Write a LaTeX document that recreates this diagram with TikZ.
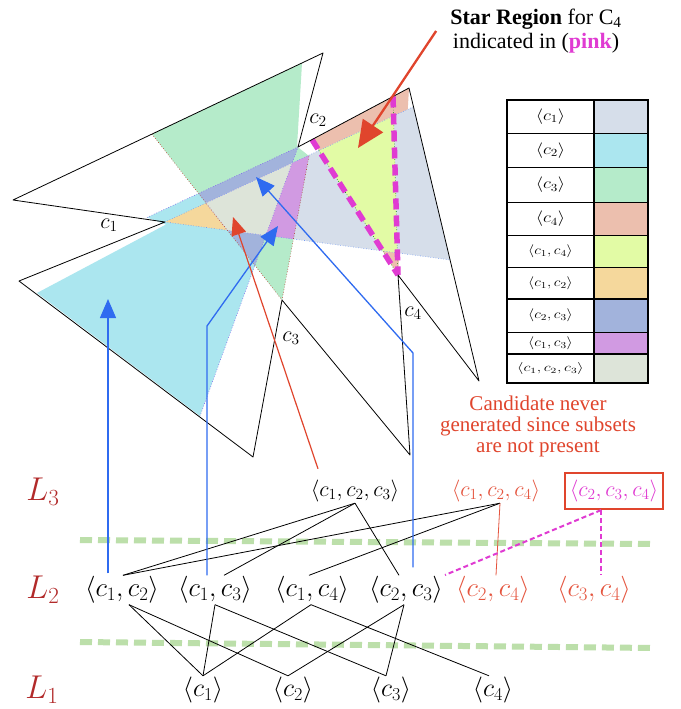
\RequirePackage{fix-cm}
\documentclass[tikz,border=0pt]{standalone}
\usepackage{fontspec}
\newfontfamily\gara{Liberation Serif}
\usetikzlibrary{arrows.meta,calc}
\definecolor{slateC}{HTML}{D6DEEA}
\definecolor{cyanC}{HTML}{ABE6EF}
\definecolor{greenC}{HTML}{B5EBCA}
\definecolor{salmonC}{HTML}{ECBFAE}
\definecolor{yellowC}{HTML}{E2FBA5}
\definecolor{orangeC}{HTML}{F5D89C}
\definecolor{periC}{HTML}{A2B3DC}
\definecolor{purpleC}{HTML}{D19AE2}
\definecolor{greyC}{HTML}{DDE4D9}
\definecolor{blueA}{HTML}{2F6BF0}
\definecolor{redA}{HTML}{E0452D}
\definecolor{lattRed}{HTML}{E5553F}
\definecolor{Lred}{HTML}{B22A2A}
\definecolor{magC}{HTML}{E03BD2}
\definecolor{sepG}{HTML}{BCDFAA}
\tikzset{
  blk/.style={draw=black, line width=0.8pt, line join=round},
  dotB/.style={draw=blueA!70, line width=0.6pt, dotted},
  dotP/.style={draw=purpleC!60!blue, line width=0.6pt, dotted},
  dotR/.style={draw=redA!80!black, line width=0.6pt, dotted},
  dotG/.style={draw=green!50!black, line width=0.6pt, dotted},
  pinkDash/.style={draw=magC, line width=5.5pt, dash pattern=on 11pt off 6pt},
  blueArr/.style={draw=blueA, line width=1.3pt, -{Triangle[width=16pt,length=19pt]}},
  redArr/.style={draw=redA, line width=1.2pt, -{Triangle[width=15pt,length=18pt]}},
  starArr/.style={draw=redA, line width=2.3pt, -{Triangle[width=24pt,length=27pt]}},
  clab/.style={font=\fontsize{22}{26}\selectfont, inner sep=0pt},
  lat/.style={font=\fontsize{27}{31}\selectfont, inner sep=1pt},
  latone/.style={font=\fontsize{26}{30}\selectfont, inner sep=1pt},
  latthree/.style={font=\fontsize{22}{26}\selectfont, inner sep=1pt},
  lev/.style={font=\fontsize{33}{37}\selectfont, text=Lred, inner sep=0pt},
  latedge/.style={draw=black, line width=0.8pt},
  latredge/.style={draw=lattRed, line width=0.8pt},
  magdash/.style={draw=magC, line width=2pt, dash pattern=on 5pt off 3pt},
  sepline/.style={draw=sepG, line width=6pt, dash pattern=on 12pt off 6pt},
  tabtxt/.style={inner sep=0pt},
  gridline/.style={draw=black, line width=1.1pt}
}
\begin{document}
\begin{tikzpicture}[x=1pt,y=-1pt]
\useasboundingbox (0,0) rectangle (680,709);
\fill[white] (0,0) rectangle (680,709);
% ---------- geometry points ----------
\coordinate (P1) at (13,200);
\coordinate (P2) at (323,53);
\coordinate (Q1) at (165,222);
\coordinate (P3) at (19,281);
\coordinate (P5) at (253,457);
\coordinate (Q3) at (282,300);
\coordinate (P6) at (410,455);
\coordinate (Q4) at (398,275);
\coordinate (P8) at (479,381);
\coordinate (P9) at (409,88);
\coordinate (Q2) at (298,147);
\coordinate (T1) at (413.5,106.7);
\coordinate (B1) at (450.1,259.9);
\coordinate (K2) at (147,217.5);
\coordinate (X2) at (166,224.5);
\coordinate (W2) at (37,293);
\coordinate (S2) at (200,416);
\coordinate (G1) at (152,134.1);
\coordinate (G2) at (302,63.2);
\coordinate (G3) at (297,146.5);
\coordinate (G4) at (309,156);
\coordinate (D4) at (312,139.6);
\coordinate (V4) at (393,96.5);
\def\conA{(Q1) -- (T1) -- (B1) -- cycle}
\def\conB{(Q2) -- (K2) -- (X2) -- (W2) -- (S2) -- cycle}
\def\conC{(Q3) -- (G1) -- (G2) -- (G3) -- (G4) -- cycle}
\def\conDw{(Q4) -- (D4) -- (P9) -- cycle}
\def\conDn{(Q4) -- (D4) -- (V4) -- cycle}
% ---------- fills ----------
\fill[salmonC] \conDw;
\fill[slateC] \conA;
\fill[cyanC] \conB;
\fill[greenC] \conC;
\begin{scope}\clip \conA; \fill[orangeC] \conB; \end{scope}
\begin{scope}\clip \conB; \fill[periC] \conC; \end{scope}
\begin{scope}\clip \conA; \fill[purpleC] \conC; \end{scope}
\begin{scope}\clip \conA; \clip \conB; \fill[greyC] \conC; \end{scope}
\begin{scope}\clip \conA; \fill[yellowC] \conDn; \end{scope}
% ---------- region borders ----------
\draw[dotB] (Q1) -- (T1);
\draw[dotB] (Q1) -- (B1);
\draw[dotP] (K2) -- (Q2) -- (S2);
\draw[dotR] (G1) -- (Q3) -- (G4);
\draw[dotG] (D4) -- (Q4) -- (V4);
\draw[pinkDash] (D4) -- (Q4);
\draw[pinkDash] (V4) -- (Q4);
% ---------- black star outline ----------
\draw[blk] (P2) -- (P1) -- (Q1) -- (P3) -- (P5) -- (Q3) -- (P6) -- (Q4) -- (P8) -- (P9) -- (Q2) -- cycle;
% ---------- cone labels ----------
\node[clab] (lc1) at (109,225) {$c_1$};
\node[clab] (lc2) at (318,120) {$c_2$};
\node[clab] (lc3) at (291,338) {$c_3$};
\node[clab] (lc4) at (413,313) {$c_4$};
% ---------- legend table ----------
\fill[slateC]  (594,100)   rectangle (648,133.3);
\fill[cyanC]   (594,133.3) rectangle (648,167.3);
\fill[greenC]  (594,167.3) rectangle (648,202.3);
\fill[salmonC] (594,202.3) rectangle (648,235.7);
\fill[yellowC] (594,235.7) rectangle (648,267.3);
\fill[orangeC] (594,267.3) rectangle (648,299);
\fill[periC]   (594,299)   rectangle (648,332.3);
\fill[purpleC] (594,332.3) rectangle (648,354);
\fill[greyC]   (594,354)   rectangle (648,383);
\draw[gridline] (507,100) rectangle (648,383);
\draw[gridline] (594,100) -- (594,383);
\foreach \yy in {133.3,167.3,202.3,235.7,267.3,299,332.3,354} {
  \draw[gridline] (507,\yy) -- (648,\yy);
}
\node[tabtxt, font=\fontsize{15.5}{18}\selectfont] (tc1) at (550.5,116.7) {\scalebox{1.2}[1]{$\langle c_1\rangle$}};
\node[tabtxt, font=\fontsize{15.5}{18}\selectfont] (tc2) at (550.5,150.3) {\scalebox{1.2}[1]{$\langle c_2\rangle$}};
\node[tabtxt, font=\fontsize{15.5}{18}\selectfont] (tc3) at (550.5,184.8) {\scalebox{1.2}[1]{$\langle c_3\rangle$}};
\node[tabtxt, font=\fontsize{15.5}{18}\selectfont] (tc4) at (550.5,219) {\scalebox{1.2}[1]{$\langle c_4\rangle$}};
\node[tabtxt, font=\fontsize{13}{15}\selectfont] (tc14) at (550.5,251.5) {\scalebox{1.2}[1]{$\langle c_1, c_4\rangle$}};
\node[tabtxt, font=\fontsize{13}{15}\selectfont] (tc12) at (550.5,283.2) {\scalebox{1.2}[1]{$\langle c_1, c_2\rangle$}};
\node[tabtxt, font=\fontsize{13}{15}\selectfont] (tc23) at (550.5,315.7) {\scalebox{1.2}[1]{$\langle c_2, c_3\rangle$}};
\node[tabtxt, font=\fontsize{13}{15}\selectfont] (tc13) at (550.5,343.2) {\scalebox{1.2}[1]{$\langle c_1, c_3\rangle$}};
\node[tabtxt, font=\fontsize{12}{14}\selectfont] (tc123) at (550.5,368.5) {\scalebox{1.35}[1]{$\langle c_1, c_2, c_3\rangle$}};
% ---------- texts ----------
\node[font=\gara\fontsize{22}{23.5}\selectfont, align=center, inner sep=0pt] (star) at (536,31)
  {\textbf{Star Region} for C\textsubscript{4}\\indicated in (\textbf{\textcolor{magC}{pink}})};
\node[font=\gara\fontsize{21}{21}\selectfont, align=center, text=redA, inner sep=0pt] (cand) at (538,426)
  {Candidate never\\generated since subsets\\are not present};
% ---------- lattice ----------
\node[lev] (L3) at (43,492) {$L_3$};
\node[lev] (L2) at (43,590) {$L_2$};
\node[lev] (L1) at (42,690) {$L_1$};
\node[latthree] (n123) at (355,491) {$\langle c_1, c_2, c_3\rangle$};
\node[latthree, text=lattRed] (n124) at (496,491) {$\langle c_1, c_2, c_4\rangle$};
\node[latthree, text=magC, draw=redA, line width=2.2pt, inner xsep=5pt, inner ysep=7pt] (n234) at (614,491) {$\langle c_2, c_3, c_4\rangle$};
\node[lat] (n12) at (122,590) {$\langle c_1, c_2\rangle$};
\node[lat] (n13) at (215,590) {$\langle c_1, c_3\rangle$};
\node[lat] (n14) at (312,590) {$\langle c_1, c_4\rangle$};
\node[lat] (n23) at (406,590) {$\langle c_2, c_3\rangle$};
\node[lat, text=lattRed] (n24) at (493,590) {$\langle c_2, c_4\rangle$};
\node[lat, text=lattRed] (n34) at (594,590) {$\langle c_3, c_4\rangle$};
\node[latone] (n1) at (203,690) {$\langle c_1\rangle$};
\node[latone] (n2) at (293,690) {$\langle c_2\rangle$};
\node[latone] (n3) at (391,690) {$\langle c_3\rangle$};
\node[latone] (n4) at (493,690) {$\langle c_4\rangle$};
% separators
\coordinate (sa1) at (80,540); \coordinate (sa2) at (655,544);
\coordinate (sb1) at (80,642); \coordinate (sb2) at (655,648);
\draw[sepline] (sa1) -- (sa2);
\draw[sepline] (sb1) -- (sb2);
% L3 -> L2 edges
\draw[latedge] (n123.south) -- ([xshift=1pt]n12.north);
\draw[latedge] (n123.south) -- ([xshift=9pt]n13.north);
\draw[latedge] (n123.south) -- ([xshift=-7pt]n23.north);
\draw[latedge] ([xshift=4pt]n124.south) -- ([xshift=1pt]n12.north);
\draw[latedge] ([xshift=4pt]n124.south) -- ([xshift=-3pt]n14.north);
\draw[latredge] ([xshift=4pt]n124.south) -- ([xshift=3pt]n24.north);
\coordinate (m1) at (445,575);
\draw[magdash] ([xshift=-13pt]n234.south) -- (m1);
\draw[magdash] ([xshift=-13pt]n234.south) -- ([xshift=7pt]n34.north);
% L2 -> L1 edges
\draw[latedge] ([xshift=7pt]n12.south) -- (n1.north);
\draw[latedge] ([xshift=7pt]n12.south) -- ([xshift=-5pt]n2.north);
\draw[latedge] (n13.south) -- (n1.north);
\draw[latedge] (n13.south) -- ([xshift=-5pt]n3.north);
\draw[latedge] ([xshift=-1pt]n14.south) -- (n1.north);
\draw[latedge] ([xshift=-1pt]n14.south) -- ([xshift=-4pt]n4.north);
\draw[latedge] ([xshift=-2pt]n23.south) -- ([xshift=-5pt]n2.north);
\draw[latedge] ([xshift=-2pt]n23.south) -- ([xshift=-5pt]n3.north);
% ---------- arrows ----------
\coordinate (tipA) at (108,299);
\coordinate (bendB) at (207,326);
\coordinate (tipB) at (278,226);
\coordinate (bendC) at (413,353);
\coordinate (tipC) at (256,177);
\coordinate (tipR) at (233,217);
\coordinate (tipS) at (358,148);
\draw[blueArr] ([xshift=-14pt,yshift=2pt]n12.north) -- (tipA);
\draw[blueArr] ([xshift=-8pt]n13.north) -- (bendB) -- (tipB);
\draw[blueArr] ([xshift=7pt,yshift=8pt]n23.north) -- (bendC) -- (tipC);
\draw[redArr] ([xshift=-37pt,yshift=10pt]n123.north) -- (tipR);
\draw[starArr] ([xshift=-14pt]star.west) -- (tipS);
\end{tikzpicture}
\end{document}
